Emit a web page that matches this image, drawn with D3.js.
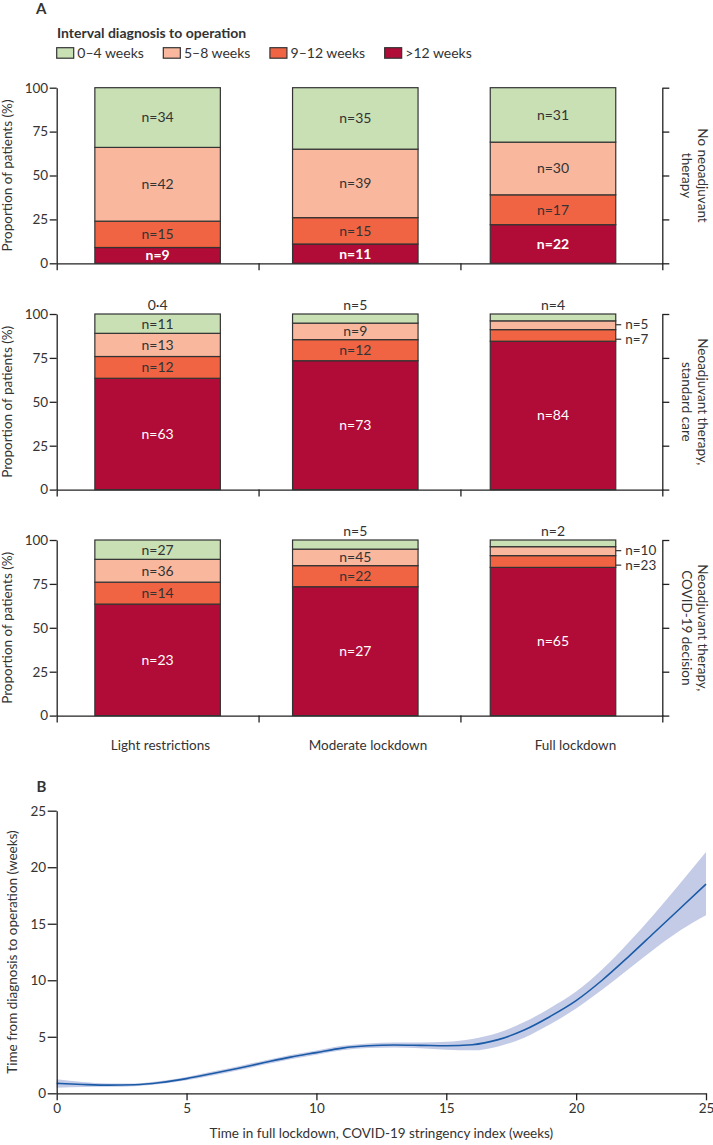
<!DOCTYPE html>
<html><head><meta charset="utf-8">
<script src="https://cdn.jsdelivr.net/npm/d3@7"></script>
<style>
body{margin:0;background:#fff;}
svg text{font-family:Lato,"Open Sans",sans-serif;fill:#333;}
</style></head><body>
<svg id="c" width="713" height="1145"></svg>
<script>
// ---------- DATA ----------
const categories = ["Light restrictions", "Moderate lockdown", "Full lockdown"];
const intervalGroups = ["0–4 weeks", "5–8 weeks", "9–12 weeks", ">12 weeks"];
const yTicksA = [0, 25, 50, 75, 100];

// Panel 1: No neoadjuvant therapy (% of patients)
const p1_w0_4 = [34, 35, 31];
const p1_w5_8 = [42, 39, 30];
const p1_w9_12 = [15, 15, 17];
const p1_w12 = [9, 11, 22];
const p1_lbl_w0_4 = ["n=34", "n=35", "n=31"];
const p1_lbl_w5_8 = ["n=42", "n=39", "n=30"];
const p1_lbl_w9_12 = ["n=15", "n=15", "n=17"];
const p1_lbl_w12 = ["n=9", "n=11", "n=22"];
const p1_top = ["", "", ""];

// Panel 2: Neoadjuvant therapy, standard care
const p2_w0_4 = [11, 5.2, 3.9];
const p2_w5_8 = [13.2, 9.4, 5];
const p2_w9_12 = [12.4, 12, 6.6];
const p2_w12 = [63.4, 73.4, 84.5];
const p2_lbl_w0_4 = ["n=11", "n=5", "n=4"];
const p2_lbl_w5_8 = ["n=13", "n=9", "n=5"];
const p2_lbl_w9_12 = ["n=12", "n=12", "n=7"];
const p2_lbl_w12 = ["n=63", "n=73", "n=84"];
const p2_top = ["0·4", "", ""];

// Panel 3: Neoadjuvant therapy, COVID-19 decision
const p3_w0_4 = [11, 5.2, 3.8];
const p3_w5_8 = [13, 9.4, 5.1];
const p3_w9_12 = [12.5, 12, 6.7];
const p3_w12 = [63.5, 73.4, 84.4];
const p3_lbl_w0_4 = ["n=27", "n=5", "n=2"];
const p3_lbl_w5_8 = ["n=36", "n=45", "n=10"];
const p3_lbl_w9_12 = ["n=14", "n=22", "n=23"];
const p3_lbl_w12 = ["n=23", "n=27", "n=65"];
const p3_top = ["", "", ""];

const panelNames = [["No neoadjuvant", "therapy"], ["Neoadjuvant therapy,", "standard care"], ["Neoadjuvant therapy,", "COVID-19 decision"]];

// Panel B: smoothed time from diagnosis to operation
const weeksB = [0,1,2,3,4,5,6,7,8,9,10,11,12,13,14,15,16,17,18,19,20,21,22,23,24,25];
const fitB   = [0.88,0.78,0.72,0.75,0.95,1.3,1.75,2.22,2.72,3.2,3.6,4.0,4.2,4.27,4.24,4.2,4.3,4.75,5.6,6.8,8.2,10.0,12.05,14.2,16.35,18.5];
const lowerB = [0.5,0.56,0.57,0.63,0.82,1.15,1.57,2.04,2.54,3.02,3.42,3.8,4.0,4.05,3.99,3.85,3.8,4.15,4.92,6.1,7.5,9.15,10.95,12.75,14.4,15.75];
const upperB = [1.25,1.0,0.87,0.87,1.08,1.45,1.93,2.4,2.9,3.38,3.78,4.2,4.4,4.49,4.5,4.55,4.8,5.35,6.3,7.55,9.0,10.95,13.3,15.85,18.55,21.34];
const xTicksB = [0,5,10,15,20,25];
const yTicksB = [0,5,10,15,20,25];

// ---------- BUILD ----------
const colors = {"0–4 weeks":"#c9e0b5","5–8 weeks":"#f9b89e","9–12 weeks":"#f06444",">12 weeks":"#b10b38"};
const panels = [
  {vals:[p1_w0_4,p1_w5_8,p1_w9_12,p1_w12], lbls:[p1_lbl_w0_4,p1_lbl_w5_8,p1_lbl_w9_12,p1_lbl_w12], top:p1_top},
  {vals:[p2_w0_4,p2_w5_8,p2_w9_12,p2_w12], lbls:[p2_lbl_w0_4,p2_lbl_w5_8,p2_lbl_w9_12,p2_lbl_w12], top:p2_top},
  {vals:[p3_w0_4,p3_w5_8,p3_w9_12,p3_w12], lbls:[p3_lbl_w0_4,p3_lbl_w5_8,p3_lbl_w9_12,p3_lbl_w12], top:p3_top}
];

const svg = d3.select("#c");
const AX = "#222";
function styleAxis(g){
  g.selectAll("path.domain").attr("stroke",AX).attr("stroke-width",1.3);
  g.selectAll(".tick line").attr("stroke",AX).attr("stroke-width",1.3);
  g.selectAll(".tick text").attr("fill","#333").style("font-size","13.5px").style("font-family","Lato, sans-serif");
}

// Panel labels
svg.append("text").attr("x",36).attr("y",14).text("A").style("font-weight",700).style("font-size","15px");
svg.append("text").attr("x",36.5).attr("y",792).text("B").style("font-weight",700).style("font-size","15px");

// Legend
svg.append("text").attr("x",57).attr("y",37.5).text("Interval diagnosis to operation")
  .style("font-weight",700).style("font-size","14px");
let lx = 56.7;
intervalGroups.forEach(k=>{
  svg.append("rect").attr("x",lx).attr("y",47.7).attr("width",17).attr("height",10.5)
    .attr("fill",colors[k]).attr("stroke","#333").attr("stroke-width",1.2);
  const t = svg.append("text").attr("x",lx+20.6).attr("y",57.5).text(k).style("font-size","14px");
  lx += 20.6 + t.node().getComputedTextLength() + 19.5;
});

const xAxisScale = d3.scaleLinear().domain([0,3]).range([56.7,662.3]);
const xBar = d3.scalePoint().domain(categories).range([157.6,553]);
const barW = 125.5;
const xLabel = d3.scalePoint().domain(categories).range([160.5,575.4]);
const panelTops = [87.7,314,540];
const panelH = 175.6;
const stackKeys = [">12 weeks","9–12 weeks","5–8 weeks","0–4 weeks"];

panels.forEach((p,i)=>{
  const top = panelTops[i];
  const y = d3.scaleLinear().domain([0,100]).range([top+panelH, top]);
  const g = svg.append("g");
  const rows = categories.map((c,j)=>{
    const r = {cat:c, idx:j};
    intervalGroups.forEach((k,ki)=>{ r[k] = p.vals[ki][j]; });
    return r;
  });
  const lblOf = {};
  intervalGroups.forEach((k,ki)=>{ lblOf[k] = p.lbls[ki]; });
  const series = d3.stack().keys(stackKeys)(rows);

  // axes
  g.append("g").attr("transform","translate(56.7,0)")
    .call(d3.axisLeft(y).tickValues(yTicksA).tickSize(7).tickPadding(1.5).tickSizeOuter(0)).call(styleAxis);
  g.append("g").attr("transform","translate(662.3,0)")
    .call(d3.axisRight(y).tickValues(yTicksA).tickSize(7).tickFormat("").tickSizeOuter(0)).call(styleAxis);
  g.append("g").attr("transform",`translate(0,${top+panelH})`)
    .call(d3.axisBottom(xAxisScale).tickValues([0,1,2,3]).tickSize(7).tickFormat("").tickSizeOuter(0)).call(styleAxis);

  // bars
  series.forEach(s=>{
    g.selectAll(null).data(s).enter().append("rect")
      .attr("x",d=>xBar(d.data.cat)-barW/2).attr("width",barW)
      .attr("y",d=>y(d[1])).attr("height",d=>y(d[0])-y(d[1]))
      .attr("fill",colors[s.key]).attr("stroke","#333").attr("stroke-width",1.2);
  });

  // labels
  const rightLabels = categories.map(()=>[]);
  ["0–4 weeks","5–8 weeks","9–12 weeks",">12 weeks"].forEach(k=>{
    const s = series.find(ss=>ss.key===k);
    s.forEach(d=>{
      const j = d.data.idx;
      const txt = lblOf[k][j];
      const v = d[1]-d[0];
      const cx = xBar(d.data.cat);
      if (v >= 7) {
        const white = k === ">12 weeks";
        g.append("text").attr("x",cx).attr("y",(y(d[0])+y(d[1]))/2).attr("dy","0.35em")
          .attr("text-anchor","middle").text(txt)
          .style("font-size","14px").style("fill",white?"#fff":"#333")
          .style("font-weight",white && i===0 ? 700 : 400);
      } else if (k === "0–4 weeks") {
        g.append("text").attr("x",cx).attr("y",y(100)-4).attr("text-anchor","middle").text(txt).style("font-size","14px");
      } else {
        rightLabels[j].push({txt, yc:(y(d[0])+y(d[1]))/2, x:cx+barW/2});
      }
    });
  });
  rightLabels.forEach(list=>{
    let prev = -1e9;
    list.forEach(r=>{
      let yy = Math.max(r.yc - 0.5, prev+14.5);
      prev = yy;
      g.append("line").attr("x1",r.x).attr("x2",r.x+5.5).attr("y1",yy).attr("y2",yy).attr("stroke","#333").attr("stroke-width",1.2);
      g.append("text").attr("x",r.x+9.5).attr("y",yy).attr("dy","0.35em").text(r.txt).style("font-size","13.5px");
    });
  });
  p.top.forEach((t,j)=>{
    if (t) g.append("text").attr("x",xBar(categories[j])).attr("y",y(100)-4).attr("text-anchor","middle").text(t).style("font-size","14px");
  });

  // y label
  g.append("text").attr("transform",`translate(12,${top+panelH/2}) rotate(-90)`)
    .attr("text-anchor","middle").text("Proportion of patients (%)").style("font-size","13.5px");
  // right label
  const rl = g.append("text").attr("transform",`translate(698,${top+panelH/2}) rotate(90)`)
    .attr("text-anchor","middle").style("font-size","13.5px");
  rl.append("tspan").attr("x",0).attr("dy",0).text(panelNames[i][0]);
  rl.append("tspan").attr("x",0).attr("dy",16).text(panelNames[i][1]);
});

// category labels
categories.forEach(c=>{
  svg.append("text").attr("x",xLabel(c)).attr("y",750).attr("text-anchor","middle").text(c).style("font-size","13.5px");
});

// ---------- PANEL B ----------
const xB = d3.scaleLinear().domain([0,25]).range([56.7,706]);
const yB = d3.scaleLinear().domain([0,25]).range([1093.3,810.7]);
const dataB = weeksB.map((w,i)=>({w, f:fitB[i], lo:lowerB[i], hi:upperB[i]}));
const gB = svg.append("g");
gB.append("path").datum(dataB)
  .attr("d", d3.area().x(d=>xB(d.w)).y0(d=>yB(d.lo)).y1(d=>yB(d.hi)).curve(d3.curveMonotoneX))
  .attr("fill","#c3cbe7");
gB.append("path").datum(dataB)
  .attr("d", d3.line().x(d=>xB(d.w)).y(d=>yB(d.f)).curve(d3.curveMonotoneX))
  .attr("fill","none").attr("stroke","#1a5aa6").attr("stroke-width",1.6);
gB.append("g").attr("transform","translate(0,1093.3)")
  .call(d3.axisBottom(xB).tickValues(xTicksB).tickSize(7).tickPadding(3).tickSizeOuter(0)).call(styleAxis);
gB.append("g").attr("transform","translate(56.7,0)")
  .call(d3.axisLeft(yB).tickValues(yTicksB).tickSize(9).tickPadding(1.5).tickSizeOuter(0)).call(styleAxis);
gB.append("text").attr("transform","translate(16.5,952) rotate(-90)").attr("text-anchor","middle")
  .text("Time from diagnosis to operation (weeks)").style("font-size","13.5px");
gB.append("text").attr("x",381.4).attr("y",1137.5).attr("text-anchor","middle")
  .text("Time in full lockdown, COVID-19 stringency index (weeks)").style("font-size","13.5px");
</script>
</body></html>
